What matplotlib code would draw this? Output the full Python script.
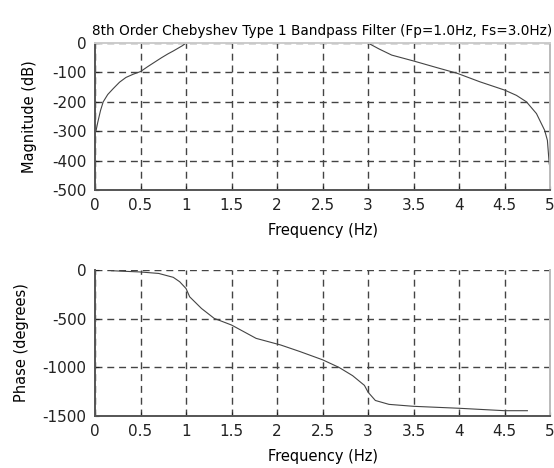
import numpy as np
import matplotlib.pyplot as plt
from matplotlib.ticker import FuncFormatter

plt.rcParams['font.family'] = ['DejaVu Sans']
plt.rcParams['axes.unicode_minus'] = False

# magnitude response (two stopband pieces)
mag_low_f = [0.01, 0.03, 0.06, 0.09, 0.14, 0.2, 0.27, 0.34, 0.42, 0.5, 0.58, 0.66, 0.73, 0.8, 0.86, 0.91, 0.96, 1.0]
mag_low_db = [-300, -270, -230, -200, -175, -155, -133, -117, -106, -97, -80, -64, -50, -37, -27, -18, -9, 0]
mag_high_f = [3.0, 3.12, 3.26, 3.5, 3.76, 3.98, 4.23, 4.5, 4.63, 4.74, 4.85, 4.94, 4.97, 4.99, 5.0]
mag_high_db = [0, -20, -41, -61, -84, -103, -132, -160, -178, -200, -240, -297, -331, -410, -425]

# phase response
phase_f = [0.18, 0.5, 0.7, 0.86, 0.93, 1.0, 1.04, 1.17, 1.31, 1.5, 1.77, 2.04, 2.25,
           2.5, 2.68, 2.83, 2.96, 3.0, 3.08, 3.23, 3.5, 4.0, 4.5, 4.75]
phase_deg = [-7, -20, -35, -75, -120, -190, -275, -395, -497, -565, -702, -770, -837,
             -922, -1000, -1085, -1185, -1255, -1340, -1380, -1400, -1420, -1445, -1445]

title = '8th Order Chebyshev Type 1 Bandpass Filter (Fp=1.0Hz, Fs=3.0Hz)'
xticks = np.arange(0, 5.01, 0.5)

fig = plt.figure(figsize=(5.54, 4.68), dpi=100)
ax1 = fig.add_axes([0.1715, 0.594, 0.8215, 0.314])
ax2 = fig.add_axes([0.1715, 0.111, 0.8215, 0.312])

grid_kw = dict(color='#444444', linestyle=(0, (5, 3.5)), linewidth=1.0)
fmt = FuncFormatter(lambda v, p: '%g' % v)

for ax in (ax1, ax2):
    ax.set_xlim(0, 5)
    ax.set_xticks(xticks)
    ax.xaxis.set_major_formatter(fmt)
    ax.grid(True, **grid_kw)
    ax.tick_params(direction='in', length=3, labelsize=11, colors='#222222', pad=6)
    # solid spines drawn over the edge grid lines
    ax.spines['left'].set_color('#555555')
    ax.spines['bottom'].set_color('#555555')
    ax.spines['right'].set_color('#bbbbbb')
    ax.spines['top'].set_color('#cccccc')
    for s in ax.spines.values():
        s.set_linewidth(1.4)
    ax.set_xlabel('Frequency (Hz)', fontsize=10.5, labelpad=7)

ax1.plot(mag_low_f, mag_low_db, color='#444444', lw=0.8)
ax1.plot(mag_high_f, mag_high_db, color='#444444', lw=0.8)
ax1.set_ylim(-500, 0)
ax1.set_yticks([0, -100, -200, -300, -400, -500])
ax1.set_ylabel('Magnitude (dB)', fontsize=10.5, labelpad=11)
ax1.set_title(title, fontsize=9.8, pad=6)

ax2.plot(phase_f, phase_deg, color='#444444', lw=0.8)
ax2.set_ylim(-1500, 0)
ax2.set_yticks([0, -500, -1000, -1500])
ax2.set_ylabel('Phase (degrees)', fontsize=10.5, labelpad=10)
ax2.spines['top'].set_visible(False)

fig.savefig('out.png', dpi=100)
